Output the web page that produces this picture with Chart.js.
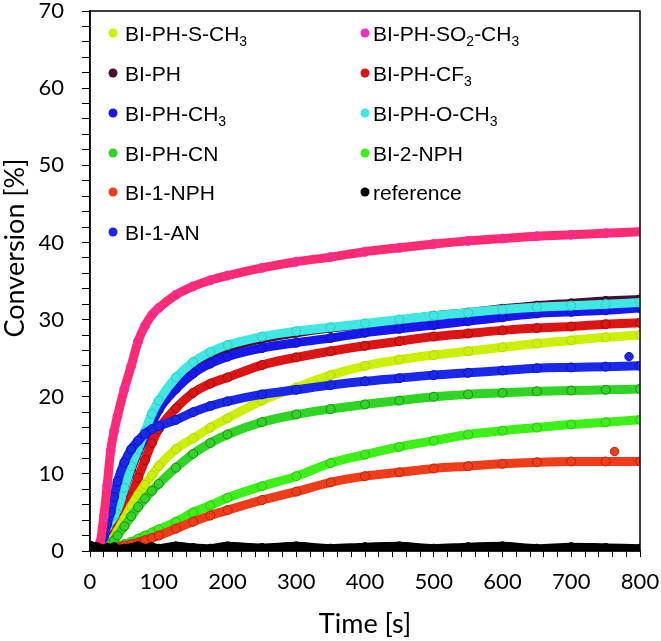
<!DOCTYPE html>
<html>
<head>
<meta charset="utf-8">
<script src="https://cdn.jsdelivr.net/npm/chart.js@4.4.0/dist/chart.umd.min.js"></script>
<style>
  html, body { margin: 0; padding: 0; background: #fff; }
  #wrap { width: 661px; height: 641px; position: relative; }
</style>
</head>
<body>
<div id="wrap"><canvas id="convChart"></canvas></div>
<script>
// time grid [s] used for every series
const timeS = [0, 10, 15, 20, 25, 30, 35, 40, 50, 60, 70, 80, 90, 100, 125, 150, 175, 200, 250, 300, 350, 400, 450, 500, 550, 600, 650, 700, 750, 800];

// conversion [%] (null = no point yet)
const bi_ph_s_ch3   = [null, null, null, null, 0.5, 1, 1.8, 2.6, 4.2, 5.8, 7.3, 8.6, 9.8, 11, 13.2, 14.6, 16.0, 17.2, 19.5, 21.2, 22.8, 24, 24.8, 25.4, 25.9, 26.4, 26.9, 27.3, 27.7, 28.0];
const bi_ph         = [null, null, null, 0.5, 1, 2, 3.4, 4.6, 8.0, 10.6, 12.9, 15.2, 17.4, 19.2, 22.2, 24.1, 25.4, 26.3, 27.5, 28.3, 28.9, 29.4, 29.9, 30.5, 30.9, 31.4, 31.8, 32.1, 32.4, 32.6];
const bi_ph_ch3     = [null, null, 0.5, 1.8, 3, 4.5, 6, 7.5, 9.8, 11.5, 13, 14.5, 16.5, 18.3, 21, 23, 24.3, 25.2, 26.3, 27, 27.6, 28.3, 28.8, 29.3, 29.8, 30.3, 30.8, 31, 31.2, 31.5];
const bi_ph_cn      = [null, null, null, null, 0.5, 0.9, 1.4, 2, 3.2, 4.5, 5.7, 6.8, 7.8, 8.7, 10.8, 12.6, 14, 15.1, 16.7, 17.7, 18.4, 19, 19.5, 20, 20.3, 20.5, 20.7, 20.8, 20.9, 21.0];
const bi_1_nph      = [null, null, null, null, 0.2, 0.3, 0.4, 0.5, 0.7, 0.9, 1.1, 1.4, 1.7, 2.0, 2.9, 3.8, 4.6, 5.3, 6.6, 7.7, 8.9, 9.7, 10.2, 10.7, 11.0, 11.3, 11.5, 11.6, 11.6, 11.6];
const bi_1_an       = [0.3, null, 0.4, 1.8, 3.5, 5, 7, 9, 11.5, 13.2, 14.3, 15.2, 15.8, 16.2, 17, 18, 18.8, 19.4, 20.3, 20.9, 21.5, 22, 22.4, 22.8, 23.1, 23.4, 23.7, 23.8, 23.9, 24.0];
const bi_ph_so2_ch3 = [null, 0.5, 1.2, 4.5, 8.5, 13, 15.5, 17.5, 21, 24, 27.2, 29.2, 30.6, 31.5, 33.2, 34.3, 35.1, 35.7, 36.7, 37.5, 38.1, 38.8, 39.3, 39.8, 40.2, 40.5, 40.8, 41.0, 41.2, 41.4];
const bi_ph_cf3     = [null, null, null, 0.3, 0.8, 1.5, 2.2, 3, 4.5, 7, 9.5, 11.8, 14, 15.8, 18.5, 20.5, 21.7, 22.5, 24.1, 25.1, 25.9, 26.6, 27.2, 27.8, 28.2, 28.6, 28.9, 29.1, 29.4, 29.6];
const bi_ph_o_ch3   = [null, null, null, 0.5, 1, 2, 3.5, 4.8, 8.2, 11, 13.2, 15.5, 17.8, 19.5, 22.5, 24.5, 25.8, 26.7, 27.8, 28.5, 29, 29.5, 30, 30.5, 30.9, 31.3, 31.6, 31.8, 32, 32.2];
const bi_2_nph      = [null, null, null, null, 0.3, 0.5, 0.6, 0.7, 0.9, 1.2, 1.6, 2.0, 2.4, 2.8, 3.8, 5.0, 5.9, 6.9, 8.4, 9.7, 11.4, 12.5, 13.5, 14.3, 15.1, 15.6, 16.0, 16.4, 16.7, 17.0];
const reference     = [0.7, 0.5, 0.3, 0.2, 0.4, 0.3, 0.5, 0.2, 0.3, 0.4, 0.6, 0.3, 0.5, 0.3, 0.6, 0.4, 0.3, 0.6, 0.4, 0.6, 0.3, 0.5, 0.6, 0.3, 0.5, 0.6, 0.3, 0.5, 0.4, 0.3];

// single stray points
const strayNphX = [763];
const strayNphY = [12.9];
const strayAnX = [784];
const strayAnY = [25.2];

// tick labels
const xTickLabels = [0, 100, 200, 300, 400, 500, 600, 700, 800];
const yTickLabels = [0, 10, 20, 30, 40, 50, 60, 70];

// legend (subscript digits after "_"), drawn in two columns
const legendLeft  = ["BI-PH-S-CH_3", "BI-PH", "BI-PH-CH_3", "BI-PH-CN", "BI-1-NPH", "BI-1-AN"];
const legendRight = ["BI-PH-SO_2-CH_3", "BI-PH-CF_3", "BI-PH-O-CH_3", "BI-2-NPH", "reference"];

function toPoints(values) {
  const pts = [];
  timeS.forEach((t, i) => {
    if (values[i] !== null) pts.push({ x: t, y: values[i] });
  });
  return pts;
}

function band(label, values, color, edge, order) {
  return {
    label: label,
    data: toPoints(values),
    showLine: true,
    borderColor: color,
    backgroundColor: color,
    borderWidth: 9,
    borderCapStyle: "round",
    borderJoinStyle: "round",
    cubicInterpolationMode: "monotone",
    pointRadius: 4.5,
    pointBorderWidth: 1,
    pointBorderColor: edge,
    pointBackgroundColor: color,
    order: order,
  };
}

function stray(xs, ys, color, edge) {
  return {
    label: "",
    data: xs.map((x, i) => ({ x: x, y: ys[i] })),
    showLine: false,
    pointRadius: 4.2,
    pointBorderWidth: 1,
    pointBorderColor: edge,
    pointBackgroundColor: color,
    order: 0,
  };
}

const seriesColor = {
  "BI-PH-S-CH_3": "#cdf000",
  "BI-PH": "#4a0d35",
  "BI-PH-CH_3": "#1818ee",
  "BI-PH-CN": "#30d424",
  "BI-1-NPH": "#f03c18",
  "BI-1-AN": "#1a28ea",
  "BI-PH-SO_2-CH_3": "#ff2b72",
  "BI-PH-CF_3": "#dc1414",
  "BI-PH-O-CH_3": "#40e8e4",
  "BI-2-NPH": "#3cf018",
  "reference": "#000000",
};
const legendDot = {
  "BI-PH-SO_2-CH_3": "#ee30c8",
};

// 凡例・枠・軸タイトル
const decorPlugin = {
  id: "decor",
  afterDraw(chart) {
    const ctx = chart.ctx;
    const a = chart.chartArea;
    ctx.save();
    ctx.strokeStyle = "#000";
    ctx.lineWidth = 1.5;
    ctx.strokeRect(a.left, a.top, a.right - a.left, a.bottom - a.top);

    // axis titles
    ctx.fillStyle = "#000";
    ctx.font = "27px Lato";
    ctx.textAlign = "center";
    ctx.textBaseline = "middle";
    ctx.fillText("Time [s]", (a.left + a.right) / 2, 624);
    ctx.save();
    ctx.translate(15, 248);
    ctx.rotate(-Math.PI / 2);
    ctx.fillText("Conversion [%]", 0, 0);
    ctx.restore();

    // legend
    const drawLabel = (text, x, y) => {
      let cx = x;
      const parts = text.split(/(_\d)/);
      ctx.textAlign = "left";
      ctx.textBaseline = "alphabetic";
      parts.forEach((p) => {
        if (!p) return;
        if (p[0] === "_") {
          ctx.font = "14px 'Liberation Sans'";
          ctx.fillText(p.slice(1), cx, y + 5);
          cx += ctx.measureText(p.slice(1)).width;
        } else {
          ctx.font = "21px 'Liberation Sans'";
          ctx.fillText(p, cx, y);
          cx += ctx.measureText(p).width;
        }
      });
    };
    const rowY = [33, 73, 113, 153, 192, 232];
    const drawColumn = (labels, dotX, textX) => {
      labels.forEach((lab, i) => {
        ctx.beginPath();
        ctx.fillStyle = legendDot[lab] || seriesColor[lab];
        ctx.arc(dotX, rowY[i], 4.5, 0, Math.PI * 2);
        ctx.fill();
        ctx.fillStyle = "#000";
        drawLabel(lab, textX, rowY[i] + 7.5);
      });
    };
    drawColumn(legendLeft, 113, 125);
    drawColumn(legendRight, 365, 373);
    ctx.restore();
  },
};

const datasets = [
  band("BI-PH", bi_ph, seriesColor["BI-PH"], "#2a0520", 12),
  band("BI-PH-CH_3", bi_ph_ch3, seriesColor["BI-PH-CH_3"], "#1010b0", 11),
  band("BI-PH-O-CH_3", bi_ph_o_ch3, seriesColor["BI-PH-O-CH_3"], "#30c8c4", 10),
  band("BI-PH-CF_3", bi_ph_cf3, seriesColor["BI-PH-CF_3"], "#a00c0c", 9),
  band("BI-1-AN", bi_1_an, seriesColor["BI-1-AN"], "#1010b8", 7),
  band("BI-PH-S-CH_3", bi_ph_s_ch3, seriesColor["BI-PH-S-CH_3"], "#b4d400", 8),
  band("BI-PH-CN", bi_ph_cn, seriesColor["BI-PH-CN"], "#1c8c14", 6),
  band("BI-2-NPH", bi_2_nph, seriesColor["BI-2-NPH"], "#2cc012", 5),
  band("BI-1-NPH", bi_1_nph, seriesColor["BI-1-NPH"], "#b02a10", 4),
  band("BI-PH-SO_2-CH_3", bi_ph_so2_ch3, seriesColor["BI-PH-SO_2-CH_3"], "#ee30c8", 3),
  band("reference", reference, seriesColor["reference"], "#000", 2),
  stray(strayNphX, strayNphY, seriesColor["BI-1-NPH"], "#b02a10"),
  stray(strayAnX, strayAnY, seriesColor["BI-1-AN"], "#1010b8"),
];

const ctx = document.getElementById("convChart").getContext("2d");
new Chart(ctx, {
  type: "scatter",
  data: { datasets: datasets },
  options: {
    responsive: true,
    maintainAspectRatio: false,
    animation: false,
    layout: { padding: { left: 0, right: 21, top: 11, bottom: 0 } },
    plugins: {
      legend: { display: false },
      tooltip: { enabled: false },
    },
    scales: {
      x: {
        type: "linear",
        min: 0,
        max: 800,
        afterFit: (s) => {
          s.height = 90;
          s.paddingLeft = 0;
          s.paddingRight = 0;
        },
        border: { display: true, color: "#000", width: 1.5 },
        grid: { drawOnChartArea: false, drawTicks: true, tickLength: 6, color: "#000", lineWidth: 1 },
        ticks: {
          stepSize: 20,
          autoSkip: false,
          maxRotation: 0,
          padding: 12,
          color: "#000",
          font: { family: "Lato", size: 22 },
          callback: (v) => (xTickLabels.includes(v) ? String(v) : ""),
        },
      },
      y: {
        type: "linear",
        min: 0,
        max: 70,
        afterFit: (s) => {
          s.width = 90;
          s.paddingTop = 0;
          s.paddingBottom = 0;
        },
        border: { display: true, color: "#000", width: 1.5 },
        grid: { drawOnChartArea: false, drawTicks: true, tickLength: 8, color: "#000", lineWidth: 1 },
        ticks: {
          stepSize: 2,
          autoSkip: false,
          padding: 18,
          color: "#000",
          font: { family: "Lato", size: 22 },
          callback: (v) => (yTickLabels.includes(v) ? String(v) : ""),
        },
      },
    },
  },
  plugins: [decorPlugin],
});
</script>
</body>
</html>
